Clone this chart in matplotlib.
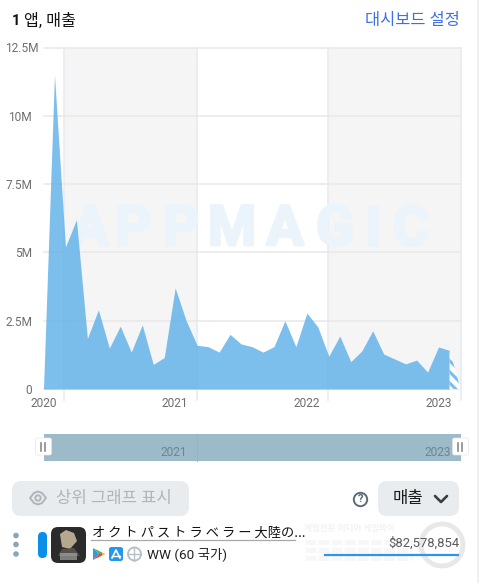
import matplotlib
matplotlib.use("Agg")
import matplotlib.pyplot as plt
import matplotlib.patheffects as pe
from matplotlib.patches import Rectangle, FancyBboxPatch, Circle, Polygon
from matplotlib.transforms import ScaledTranslation

plt.rcParams['font.family'] = ['Roboto', 'Noto Sans CJK KR', 'DejaVu Sans']
plt.rcParams['hatch.linewidth'] = 2.2

# monthly revenue in millions, Jan 2020 .. Mar 2023
revenue = [0.0, 11.5, 5.2, 6.2, 1.85, 2.9, 1.5, 2.3, 1.35, 2.35, 0.9, 1.15,
           3.7, 2.5, 1.6, 1.55, 1.35, 2.0, 1.65, 1.55, 1.35, 1.55, 2.5, 1.55,
           2.78, 2.27, 1.2, 1.94, 1.0, 1.39, 2.13, 1.28, 1.1, 0.92, 1.06, 0.62,
           1.54, 1.41, 0.03]
months = list(range(len(revenue)))
partial_from = 37  # last month is not complete yet

y_ticks = [0, 2.5, 5, 7.5, 10, 12.5]
y_labels = ['0', '2.5M', '5M', '7.5M', '10M', '12.5M']
x_ticks = [0, 12, 24, 36]
x_labels = ['2020', '2021', '2022', '2023']
band_edges = [(1.9, 13.95), (25.95, 38)]
watermark = 'APPMAGIC'
watermark_x = [90, 133, 181, 232, 285, 335, 373, 411]

W, H = 479, 583
fig = plt.figure(figsize=(W / 100, H / 100), dpi=100, facecolor='white')


def px_axes(left, top, right, bottom):
    return fig.add_axes([left / W, 1 - bottom / H, (right - left) / W, (bottom - top) / H])


# chart
ax = px_axes(43.5, 47.5, 460.5, 389)
ax.set_xlim(0, 38)
ax.set_ylim(0, 12.5)
ax.patch.set_alpha(0)
for s in ax.spines.values():
    s.set_visible(False)

for a, b in band_edges:
    ax.axvspan(a, b, color='#f5f5f5', lw=0, zorder=0)
for a, b in band_edges:
    for e in (a, b):
        ax.plot([e, e], [-0.4, 12.5], color='#e9ebf1', lw=1.2, clip_on=False, zorder=1)
for v in y_ticks:
    ax.plot([0, 38], [v, v], color='#e8e8e8', lw=1.1, clip_on=False, zorder=1)

# watermark sits under the area
for ch, x in zip(watermark, watermark_x):
    ax.annotate(ch, xy=(x / W, 1 - 230 / H), xycoords='figure fraction', fontsize=40, fontweight='bold',
                color='#ebf4fa', ha='center', va='center', family=['Roboto'], zorder=2,
                path_effects=[pe.withStroke(linewidth=2, foreground='#ebf4fa')])

ax.fill_between(months[:partial_from + 1], revenue[:partial_from + 1], 0,
                color='#5cb0e8', alpha=0.8, lw=0, zorder=3)
ax.fill_between(months[partial_from:], revenue[partial_from:], 0,
                facecolor='white', edgecolor='#7abdec', hatch='\\\\\\', lw=0, zorder=3)

ax.set_xticks(x_ticks, x_labels)
ax.set_yticks(y_ticks, y_labels)
ax.tick_params(length=0, labelsize=8.6, labelcolor='#6f6f6f')
ax.tick_params(axis='x', pad=6)
ax.tick_params(axis='y', pad=8.3)
# the top label sticks out further than the others
top_label = ax.get_yticklabels()[-1]
top_label.set_transform(top_label.get_transform() + ScaledTranslation(4.5 / 72, 0, fig.dpi_scale_trans))

# page overlay, drawn in pixel coordinates
ui = px_axes(0, 0, W, H)
ui.set_xlim(0, W)
ui.set_ylim(H, 0)
ui.axis('off')
ui.patch.set_alpha(0)

ui.add_patch(Rectangle((477, 0), 2, H, color='#f0f0f0', lw=0))

# header
ui.text(12, 21, '1', fontsize=10.5, fontweight='bold', color='#111111', va='center')
ui.text(24, 21, '앱, 매출', fontsize=11.6, color='#111111', va='center')
ui.text(460, 21, '대시보드 설정', fontsize=11.8, color='#3f6fe8', va='center', ha='right')

# range slider
ui.add_patch(Rectangle((44, 434), 417, 26.5, color='#9dbac9', lw=0))
ui.plot([197, 197], [434, 460.5], color='#97b4c4', lw=0.7)
ui.text(174, 452, '2021', fontsize=8.6, color='#6c8593', ha='center', va='center')
ui.text(438, 452, '2023', fontsize=8.6, color='#6c8593', ha='center', va='center')
for hx in [43.5, 460.5]:
    ui.add_patch(FancyBboxPatch((hx - 7, 440), 14, 15, boxstyle='round,pad=0,rounding_size=2',
                                fc='#8b9aa3', ec='none', alpha=0.45))
    ui.add_patch(FancyBboxPatch((hx - 8, 438), 16, 17, boxstyle='round,pad=0,rounding_size=2',
                                fc='white', ec='#e6e6e6', lw=0.5))
    ui.plot([hx - 2, hx - 2], [443, 451], color='#8a8a8a', lw=1.2)
    ui.plot([hx + 2, hx + 2], [443, 451], color='#8a8a8a', lw=1.2)

# buttons
ui.add_patch(FancyBboxPatch((12, 481), 177, 35, boxstyle='round,pad=0,rounding_size=9',
                            fc='#e8ecef', ec='none'))
eye_top = [(30, 498), (34, 493), (38, 491.5), (42, 493), (46, 498)]
eye_bottom = [(42, 503), (38, 504.5), (34, 503)]
ui.add_patch(Polygon(eye_top + eye_bottom, closed=True, fc='none', ec='#b0b5b9', lw=1.4, joinstyle='round'))
ui.add_patch(Circle((38, 498), 2.7, fc='none', ec='#b0b5b9', lw=1.4))
ui.text(56, 498, '상위 그래프 표시', fontsize=12, color='#b0b5b9', va='center')

ui.add_patch(Circle((360.5, 499.5), 6.7, fc='none', ec='#5c6b75', lw=1.4))
ui.text(360.5, 499.5, '?', fontsize=8, fontweight='bold', color='#5c6b75', ha='center', va='center')
ui.add_patch(FancyBboxPatch((378, 481), 81, 35, boxstyle='round,pad=0,rounding_size=9',
                            fc='#e8ecef', ec='none'))
ui.text(408, 498, '매출', fontsize=12, color='#1a1a1a', ha='center', va='center')
ui.plot([435, 441, 447], [496, 502, 496], color='#3a3f44', lw=1.9, solid_capstyle='round')

# app row
for dy in [535.5, 544.5, 554]:
    ui.add_patch(Circle((16, dy), 2.8, fc='#88a6b8', ec='none'))
ui.add_patch(FancyBboxPatch((38, 532), 9, 26, boxstyle='round,pad=0,rounding_size=4.5',
                            fc='#0a8fe8', ec='none'))
ui.add_patch(FancyBboxPatch((51, 527), 35, 36, boxstyle='round,pad=0,rounding_size=7',
                            fc='#2c2b2c', ec='none'))
ui.add_patch(Polygon([(60, 534), (66, 530), (74, 533), (77, 541), (70, 549), (62, 547)],
                     closed=True, fc='#b5a88f', ec='none'))
ui.add_patch(Polygon([(58, 556), (62, 549), (74, 548), (80, 556)], closed=True, fc='#55504a', ec='none'))
ui.add_patch(Rectangle((60, 553), 17, 7, fc='#b5b5b5', ec='none', alpha=0.6))

ui.text(92, 533, 'オ ク ト パ ス ト ラ ベ ラ ー 大陸の...', fontsize=9.5, color='#111111', va='center',
        family=['Noto Sans CJK JP', 'DejaVu Sans'])
ui.plot([91, 295], [539.5, 539.5], color='#a8a8a8', lw=0.9)

ui.add_patch(Polygon([(93, 548), (93, 560), (99, 554)], closed=True, fc='#2f9be0', ec='none'))
ui.add_patch(Polygon([(93, 548), (105, 554), (99, 554)], closed=True, fc='#46b35e', ec='none'))
ui.add_patch(Polygon([(93, 560), (105, 554), (99, 554)], closed=True, fc='#e5473f', ec='none'))
ui.add_patch(Polygon([(102, 552.5), (105, 554), (102, 555.5)], closed=True, fc='#f7c52c', ec='none'))
ui.add_patch(FancyBboxPatch((109, 547), 14, 14, boxstyle='round,pad=0,rounding_size=2.5',
                            fc='#2496f0', ec='none'))
ui.plot([112, 116, 120], [558, 550, 558], color='white', lw=1.2)
ui.plot([112, 120], [556, 556], color='white', lw=1)
ui.add_patch(Circle((134.5, 554), 6.5, fc='none', ec='#b3bec6', lw=1.3))
ui.plot([128, 141], [554, 554], color='#b3bec6', lw=1)
ui.plot([134.5, 134.5], [547.5, 560.5], color='#b3bec6', lw=1)

ui.text(147, 554, 'WW (60 국가)', fontsize=9.7, color='#222222', va='center')

# faint site watermark bottom right
ui.text(304, 529, '게임전문 미디어 게임와이', fontsize=6.2, fontweight='bold', color='#f2f2f2', va='center')
for wy in [542, 550, 558]:
    ui.plot([305, 412], [wy, wy], color='#f7f7f7', lw=3.5, ls=(0, (2.2, 0.5)))
ui.add_patch(Circle((442, 545), 21, fc='none', ec='#e8e8e8', lw=3.5))

ui.text(459, 543, '$82,578,854', fontsize=9.4, color='#5a5a5a', ha='right', va='center')
ui.plot([325, 458], [555, 555], color='#2d93ee', lw=1.6)

fig.savefig('out.png', dpi=100)
